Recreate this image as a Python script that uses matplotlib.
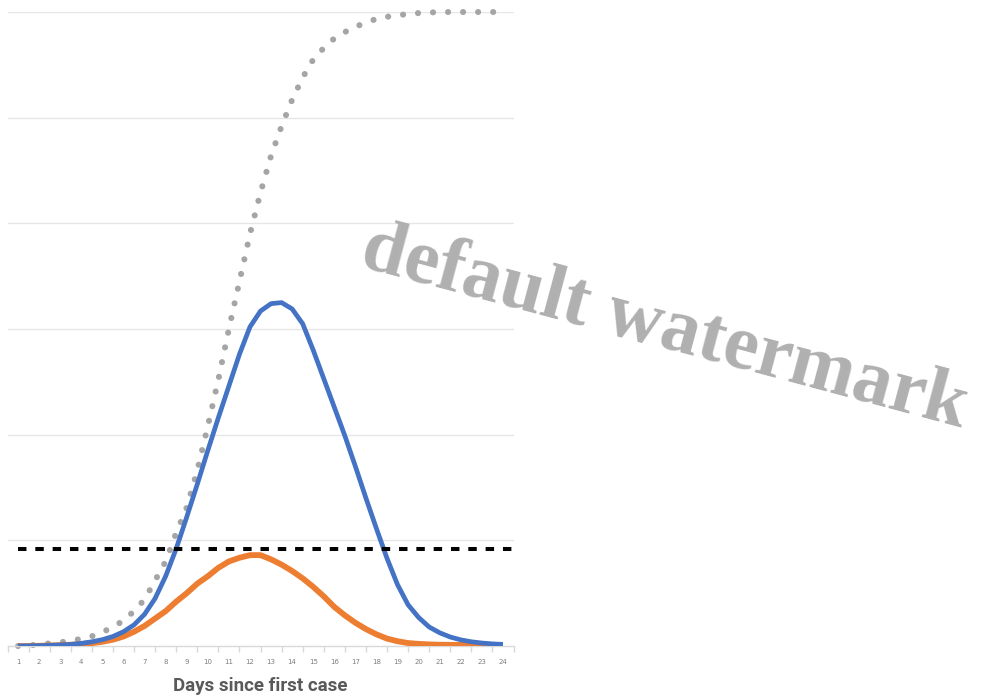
import numpy as np
import matplotlib.pyplot as plt

# days (half-day steps) and the series
days = [1, 1.5, 2, 2.5, 3, 3.5, 4, 4.5, 5, 5.5, 6, 6.5, 7, 7.5, 8, 8.5,
        9, 9.5, 10, 10.5, 11, 11.5, 12, 12.5, 13, 13.5, 14, 14.5, 15, 15.5,
        16, 16.5, 17, 17.5, 18, 18.5, 19, 19.5, 20, 20.5, 21, 21.5, 22, 22.5,
        23, 23.5, 24]

no_measures = [0.0, 0.001, 0.003, 0.006, 0.01, 0.015, 0.025, 0.04, 0.06, 0.09,
               0.135, 0.2, 0.3, 0.45, 0.66, 0.92, 1.22, 1.53, 1.85, 2.16,
               2.46, 2.76, 3.02, 3.17, 3.24, 3.25, 3.19, 3.05, 2.8, 2.53,
               2.26, 1.99, 1.7, 1.4, 1.11, 0.83, 0.58, 0.39, 0.27, 0.18,
               0.125, 0.085, 0.058, 0.04, 0.028, 0.02, 0.015]

with_measures = [0.0, 0.0, 0.002, 0.005, 0.008, 0.012, 0.018, 0.027, 0.04, 0.06,
                 0.09, 0.135, 0.19, 0.26, 0.33, 0.42, 0.5, 0.59, 0.66, 0.74,
                 0.8, 0.835, 0.86, 0.86, 0.82, 0.77, 0.71, 0.64, 0.56, 0.47,
                 0.37, 0.29, 0.22, 0.16, 0.11, 0.07, 0.045, 0.028, 0.02, 0.015,
                 0.012, 0.011, 0.01, 0.01, 0.01, 0.01, 0.01]

cumulative = [0.0, 0.005, 0.015, 0.025, 0.035, 0.05, 0.068, 0.092, 0.13, 0.18,
              0.24, 0.33, 0.44, 0.62, 0.8, 1.07, 1.31, 1.66, 2.08, 2.52,
              3.0, 3.45, 3.9, 4.29, 4.64, 4.92, 5.17, 5.38, 5.55, 5.66,
              5.75, 5.81, 5.86, 5.9, 5.935, 5.955, 5.97, 5.98, 5.99, 5.995,
              6.0, 6.0, 6.0, 6.0, 6.0, 6.0, 6.0]

capacity = 0.92
day_labels = [str(d) for d in range(1, 25)]

fig = plt.figure(figsize=(9.81, 6.95), dpi=100)
ax = fig.add_axes([0.00765, 0.0705, 0.5158, 0.9122])

ax.set_xlim(0.5, 24.5)
ax.set_ylim(0, 6)

# horizontal gridlines
for v in range(1, 7):
    ax.axhline(v, color='#e6e6e6', lw=1.0, zorder=0)

ax.plot(days, cumulative, color='#a5a5a5', lw=4.4,
        linestyle=(0, (0.01, 2.45)), dash_capstyle='round', clip_on=False, zorder=2)
ax.plot(days, with_measures, color='#ed7d31', lw=4.2, solid_capstyle='butt',
        solid_joinstyle='round', zorder=3)
ax.plot(days, no_measures, color='#4472c4', lw=3.4, solid_capstyle='butt',
        solid_joinstyle='round', zorder=4)
ax.plot([1, 24.5], [capacity, capacity], color='black', lw=2.9,
        linestyle=(0, (2.1, 2.2)), clip_on=False, zorder=5)

for s in ['top', 'right', 'left']:
    ax.spines[s].set_visible(False)
ax.spines['bottom'].set_color('#d9d9d9')
ax.spines['bottom'].set_linewidth(1.0)

ax.set_yticks([])
ax.set_xticks(range(1, 25))
ax.set_xticklabels(day_labels, fontsize=5, color='#7f7f7f')
ax.set_xticks(np.arange(0.5, 25, 1), minor=True)
ax.tick_params(axis='x', which='major', length=0, pad=9)
ax.tick_params(axis='x', which='minor', length=4, color='#d9d9d9', width=1)

ax.set_xlabel('Days since first case', fontsize=13.5, fontweight='bold',
              color='#595959', family='Roboto', labelpad=9)

fig.text(0.677, 0.527, 'default watermark', fontsize=56, fontweight='bold',
         family='Liberation Serif', color='#b0b0b0', rotation=-15,
         ha='center', va='center', rotation_mode='anchor')

fig.savefig('out.png', dpi=100)
